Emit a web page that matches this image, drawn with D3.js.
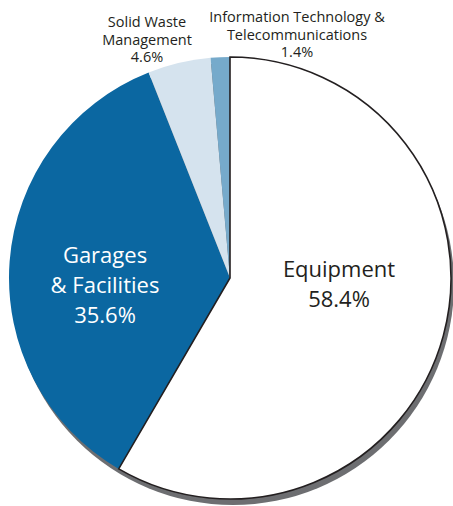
<!DOCTYPE html>
<html>
<head>
<meta charset="utf-8">
<script src="https://cdn.jsdelivr.net/npm/d3@7/dist/d3.min.js"></script>
<style>
  html, body { margin: 0; padding: 0; background: #fff; }
  svg { display: block; }
  text { font-family: "Open Sans", "Noto Sans", sans-serif; fill: #231f20; }
</style>
</head>
<body>
<svg id="chart" width="453" height="506"></svg>
<script>
// Budget shares by category, drawn clockwise from 12 o'clock
const categories = ["Equipment", "Garages & Facilities", "Solid Waste Management", "Information Technology & Telecommunications"];
const shares = [58.4, 35.6, 4.6, 1.4];
const colors = ["#ffffff", "#0b67a1", "#d5e3ee", "#76aacb"];
const labelLines = [
  ["Equipment"],
  ["Garages", "& Facilities"],
  ["Solid Waste", "Management"],
  ["Information Technology &", "Telecommunications"]
];

const cx = 230, cy = 278, radius = 221;

const svg = d3.select("#chart");

const data = categories.map((c, i) => ({ name: c, value: shares[i], color: colors[i] }));

const pie = d3.pie().value(d => d.value).sort(null);
const arcs = pie(data);
const arc = d3.arc().innerRadius(0).outerRadius(radius);

// drop shadow behind the disc
svg.append("circle")
  .attr("cx", cx + 3).attr("cy", cy + 6).attr("r", radius)
  .attr("fill", "#6d6e71");

const g = svg.append("g").attr("transform", `translate(${cx},${cy})`);

g.selectAll("path.slice")
  .data(arcs)
  .join("path")
  .attr("class", "slice")
  .attr("d", arc)
  .attr("fill", d => d.data.color)
  .attr("stroke", d => d.index === 0 ? "#231f20" : "none")
  .attr("stroke-width", 1.6)
  .attr("stroke-linejoin", "miter");

// bring the outlined slice to the front so its border is not covered
g.selectAll("path.slice").filter(d => d.index === 0).raise();

// label placement: inside the two large slices, above the two thin ones
const placements = [
  { x: 339, y: 277, size: 22, lh: 30, fill: "#231f20" },
  { x: 105, y: 263, size: 22, lh: 30, fill: "#ffffff" },
  { x: 147, y: 27, size: 14.5, lh: 17.5, fill: "#231f20" },
  { x: 297, y: 22, size: 14.5, lh: 17.5, fill: "#231f20" }
];

placements.forEach((p, i) => {
  const lines = labelLines[i].concat([shares[i].toFixed(1) + "%"]);
  const t = svg.append("text")
    .attr("text-anchor", "middle")
    .style("font-size", p.size + "px")
    .style("fill", p.fill);
  lines.forEach((s, j) => {
    t.append("tspan").attr("x", p.x).attr("y", p.y + j * p.lh).text(s);
  });
});
</script>
</body>
</html>
